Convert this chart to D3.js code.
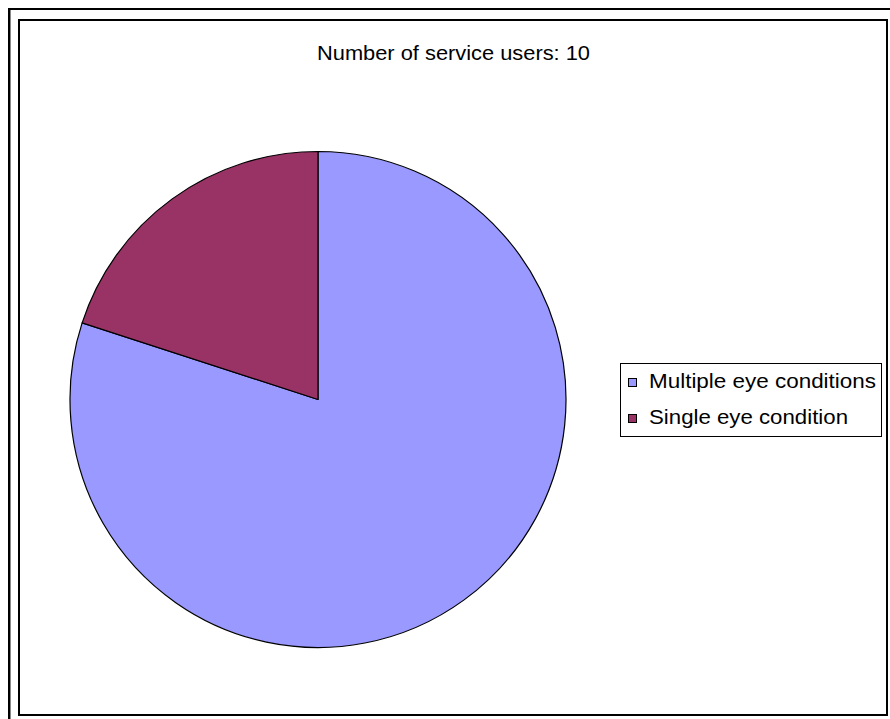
<!DOCTYPE html>
<html>
<head>
<meta charset="utf-8">
<script src="https://cdn.jsdelivr.net/npm/d3@7"></script>
<style>
  body { margin: 0; background: #fff; }
  svg { display: block; font-family: "Liberation Sans", Arial, sans-serif; }
</style>
</head>
<body>
<div id="viz"></div>
<script>
let title = 'Number of service users: 10';
let categories = ['Multiple eye conditions', 'Single eye condition'];
let values = [8, 2];
let colors = ['#9999FF', '#993366'];

window.onload = function () {
    draw_chart()
}

function draw_chart() {
    const width = 890, height = 719;

    const svg = d3.select('#viz').append('svg')
        .attr('width', width)
        .attr('height', height);

    // outer frame runs off the right/bottom edge, inner frame is closed
    svg.append('rect')
        .attr('x', 9).attr('y', 9)
        .attr('width', 900).attr('height', 800)
        .attr('fill', 'none').attr('stroke', '#000').attr('stroke-width', 2);
    svg.append('line')
        .attr('x1', 10.5).attr('x2', 10.5).attr('y1', 10).attr('y2', 719)
        .attr('stroke', '#888').attr('stroke-width', 1);
    svg.append('rect')
        .attr('x', 19).attr('y', 20)
        .attr('width', 868).attr('height', 695)
        .attr('fill', '#fff').attr('stroke', '#000').attr('stroke-width', 2);

    svg.append('text')
        .attr('x', 453.5).attr('y', 60)
        .attr('text-anchor', 'middle')
        .attr('font-size', 20)
        .attr('textLength', 273)
        .attr('lengthAdjust', 'spacingAndGlyphs')
        .text(title);

    // Multiple starts at 12 o'clock going clockwise, Single closes the circle
    const cx = 318, cy = 399.5, r = 248;
    const arcs = d3.pie().sort(null).value(d => d)(values);
    const arc = d3.arc().innerRadius(0).outerRadius(r);

    svg.append('g')
        .attr('transform', 'translate(' + cx + ',' + cy + ')')
        .selectAll('path')
        .data(arcs)
        .join('path')
        .attr('d', arc)
        .attr('fill', (d, i) => colors[i])
        .attr('stroke', '#000')
        .attr('stroke-width', 1.2)
        .attr('stroke-linejoin', 'round');

    // legend
    const lg = svg.append('g');
    lg.append('rect')
        .attr('x', 620.5).attr('y', 363.5)
        .attr('width', 261).attr('height', 73)
        .attr('fill', '#fff').attr('stroke', '#000').attr('stroke-width', 1);

    const item = lg.selectAll('g.item')
        .data(categories)
        .join('g')
        .attr('class', 'item')
        .attr('transform', (d, i) => 'translate(0,' + (i * 36) + ')');

    item.append('rect')
        .attr('x', 628.5).attr('y', 378.5)
        .attr('width', 8).attr('height', 8)
        .attr('fill', (d, i) => colors[i])
        .attr('stroke', '#000').attr('stroke-width', 1);

    item.append('text')
        .attr('x', 649).attr('y', 388)
        .attr('font-size', 19.5)
        .attr('textLength', (d, i) => i === 0 ? 227 : 199)
        .attr('lengthAdjust', 'spacingAndGlyphs')
        .text(d => d);
}
</script>
</body>
</html>
